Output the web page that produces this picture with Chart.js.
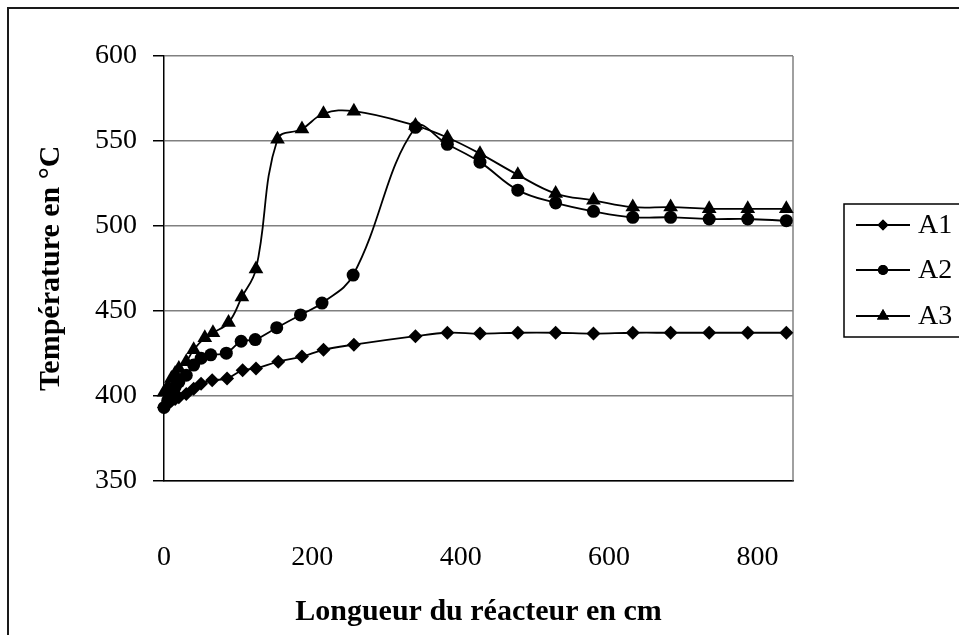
<!DOCTYPE html>
<html>
<head>
<meta charset="utf-8">
<script src="https://cdn.jsdelivr.net/npm/chart.js@4"></script>
<style>
  html, body { margin: 0; padding: 0; background: #fff; overflow: hidden; }
  canvas { display: block; }
</style>
</head>
<body>
<canvas id="chart" width="959" height="635"></canvas>
<script>
// longueur (cm) et température (°C) de chaque série
const xA1 = [0, 5, 10, 15, 20, 30, 40, 50, 65, 85, 106, 124, 154, 186, 215, 256, 339, 382, 426, 477, 528, 579, 632, 683, 735, 787, 839];
const tA1 = [393, 395, 397, 398, 399, 401, 404, 407, 409, 410, 415, 416, 420, 423, 427, 430, 435, 437, 436.5, 437, 437, 436.5, 437, 437, 437, 437, 437];

const xA2 = [0, 5, 10, 15, 20, 30, 40, 50, 63, 84, 104, 123, 152, 184, 213, 255, 339, 382, 426, 477, 528, 579, 632, 683, 735, 787, 839];
const tA2 = [393, 397, 402, 405, 408, 412, 418, 422, 424, 425, 432, 433, 440, 447.5, 454.5, 471, 558, 548, 537.5, 521, 513.5, 508.5, 505, 505, 504, 504, 503];

const xA3 = [0, 5, 10, 15, 20, 30, 40, 55, 66, 87, 105, 124, 153, 186, 215, 256, 339, 382, 426, 477, 528, 579, 632, 683, 735, 787, 839];
const tA3 = [402, 405, 410, 413, 416, 420, 427, 434, 437, 443, 458, 474.5, 551, 557, 566, 567.5, 559, 552, 542.5, 530, 519, 515, 511, 511, 510, 510, 510];

const seriesNames = ['A1', 'A2', 'A3'];
const markers = ['rectRot', 'circle', 'triangle'];
const markerSizes = [7, 6.5, 8.5];
const xTicks = [0, 200, 400, 600, 800];

const SERIF = "'Liberation Serif', 'Times New Roman', serif";

function points(xs, ys) {
  return xs.map((x, i) => ({ x: x, y: ys[i] }));
}

function makeDataset(i, xs, ys) {
  return {
    label: seriesNames[i],
    data: points(xs, ys),
    borderColor: '#000',
    backgroundColor: '#000',
    borderWidth: 1.8,
    pointStyle: markers[i],
    pointRadius: markerSizes[i],
    pointBorderWidth: 0,
    tension: 0.4,
    clip: false
  };
}

// cadre extérieur + bordure grise de la zone de tracé
const framePlugin = {
  id: 'frame',
  beforeDraw(chart) {
    const ctx = chart.ctx;
    ctx.save();
    ctx.fillStyle = '#fff';
    ctx.fillRect(0, 0, chart.width, chart.height);
    ctx.strokeStyle = '#1a1a1a';
    ctx.lineWidth = 2;
    ctx.strokeRect(8, 8, 1100, 800);
    ctx.restore();
  },
  beforeDatasetsDraw(chart) {
    const a = chart.chartArea;
    const ctx = chart.ctx;
    ctx.save();
    ctx.strokeStyle = '#808080';
    ctx.lineWidth = 1.5;
    ctx.beginPath();
    ctx.moveTo(a.right, a.top);
    ctx.lineTo(a.right, a.bottom);
    ctx.stroke();
    ctx.restore();
  }
};

// légende à droite : trait + marqueur + nom
const legendPlugin = {
  id: 'boxLegend',
  afterDraw(chart) {
    const ctx = chart.ctx;
    ctx.save();
    ctx.strokeStyle = '#000';
    ctx.lineWidth = 1.5;
    ctx.strokeRect(844, 204, 200, 133);
    const rows = [225, 270, 316];
    chart.data.datasets.forEach((ds, i) => {
      const y = rows[i];
      ctx.strokeStyle = '#000';
      ctx.lineWidth = 1.8;
      ctx.beginPath();
      ctx.moveTo(856, y);
      ctx.lineTo(910, y);
      ctx.stroke();
      ctx.fillStyle = '#000';
      Chart.helpers.drawPoint(ctx, {
        pointStyle: ds.pointStyle,
        radius: ds.pointRadius - 1.5,
        rotation: 0,
        borderWidth: 0
      }, 883, y);
      ctx.fill();
      ctx.font = '28px ' + SERIF;
      ctx.textAlign = 'left';
      ctx.textBaseline = 'middle';
      ctx.fillText(ds.label, 918, y + 1);
    });
    ctx.restore();
  }
};

new Chart(document.getElementById('chart'), {
  type: 'line',
  data: {
    datasets: [
      makeDataset(0, xA1, tA1),
      makeDataset(1, xA2, tA2),
      makeDataset(2, xA3, tA3)
    ]
  },
  options: {
    responsive: false,
    animation: false,
    devicePixelRatio: 1,
    layout: { padding: { left: 0, top: 56, right: 166, bottom: 0 } },
    plugins: {
      legend: { display: false },
      tooltip: { enabled: false }
    },
    scales: {
      x: {
        type: 'linear',
        min: 0,
        max: 848,
        afterBuildTicks: s => { s.ticks = xTicks.map(v => ({ value: v })); },
        afterFit: s => { s.height = 154.5; },
        grid: { display: false, drawTicks: false },
        border: { display: true, color: '#000', width: 1.5 },
        ticks: {
          color: '#000',
          padding: 60,
          maxRotation: 0,
          font: { family: SERIF, size: 28 }
        },
        title: {
          display: true,
          text: 'Longueur du réacteur en cm',
          color: '#000',
          font: { family: SERIF, size: 30, weight: 'bold' },
          padding: { top: 0, bottom: 5 }
        }
      },
      y: {
        min: 350,
        max: 600,
        afterFit: s => { s.width = 164; },
        ticks: {
          stepSize: 50,
          color: '#000',
          padding: 16,
          font: { family: SERIF, size: 28 }
        },
        grid: {
          color: '#808080',
          lineWidth: 1.5,
          tickLength: 11,
          tickColor: '#000',
          tickWidth: 1.5
        },
        border: { display: true, color: '#000', width: 1.5 },
        title: {
          display: true,
          text: 'Température en °C',
          color: '#000',
          font: { family: SERIF, size: 30, weight: 'bold' },
          padding: { top: 33, bottom: 0 }
        }
      }
    }
  },
  plugins: [framePlugin, legendPlugin]
});
</script>
</body>
</html>
